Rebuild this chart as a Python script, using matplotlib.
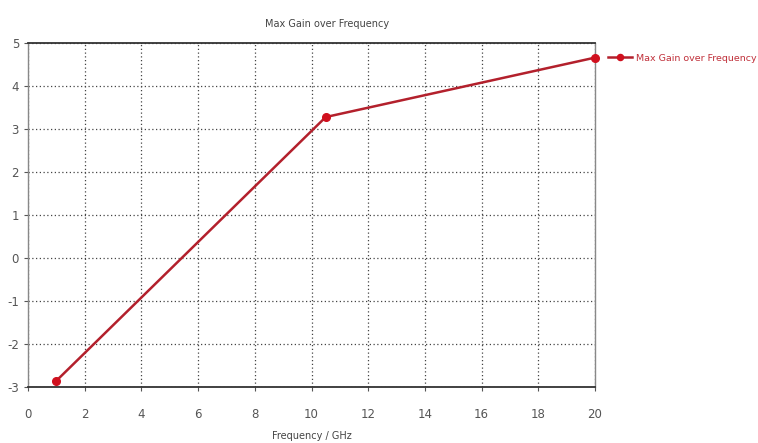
import matplotlib
matplotlib.use("Agg")
import matplotlib.pyplot as plt

# data
freq_ghz = [1.0, 10.5, 20.0]
max_gain = [-2.85, 3.27, 4.65]
x_ticks = [0, 2, 4, 6, 8, 10, 12, 14, 16, 18, 20]
y_ticks = [-3, -2, -1, 0, 1, 2, 3, 4, 5]

plt.rcParams["font.family"] = "DejaVu Sans"
plt.rcParams["axes.unicode_minus"] = False

fig = plt.figure(figsize=(7.58, 4.43), dpi=100)
ax = fig.add_axes([0.037, 0.126, 0.748, 0.778])

line_color = "#b3202c"
ax.plot(freq_ghz, max_gain, color=line_color, linewidth=1.8,
        marker="o", markersize=5.5, markerfacecolor="#d0101e",
        markeredgecolor="#d0101e", clip_on=False, zorder=3,
        label="Max Gain over Frequency")

ax.set_xlim(0, 20)
ax.set_ylim(-3, 5)
ax.set_xticks(x_ticks)
ax.set_yticks(y_ticks)

ax.grid(True, linestyle=(0, (1, 2)), color="#444444", linewidth=0.9)
ax.set_axisbelow(True)

for side in ["left", "right"]:
    ax.spines[side].set_color("#888888")
    ax.spines[side].set_linewidth(1.0)
for side in ["top", "bottom"]:
    ax.spines[side].set_color("#333333")
    ax.spines[side].set_linewidth(1.3)

ax.tick_params(axis="both", labelsize=8.5, colors="#555555", length=3, width=0.8)
ax.tick_params(axis="x", pad=12)

ax.set_xlabel("Frequency / GHz", fontsize=7, color="#444444", labelpad=7)
ax.set_title("Max Gain over Frequency", fontsize=7, color="#444444", pad=11, x=0.527)

leg = ax.legend(loc="center left", bbox_to_anchor=(1.023, 0.955), frameon=False,
                fontsize=6.8, handlelength=2.5, handletextpad=0.5,
                borderaxespad=0.0, borderpad=0.0, markerscale=0.8)
for t in leg.get_texts():
    t.set_color("#c0303a")

fig.savefig("out.png", dpi=100)
